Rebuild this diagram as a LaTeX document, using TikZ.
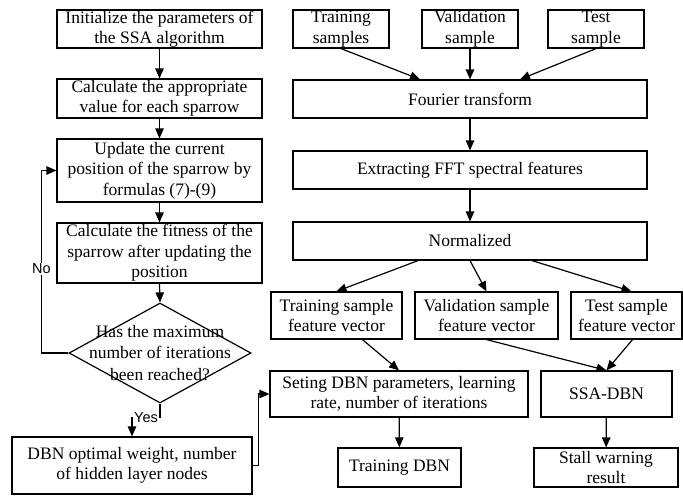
\documentclass[tikz,border=0pt]{standalone}
\usepackage{fontspec}
\setmainfont{Liberation Serif}
\newfontfamily\answerfont{Liberation Sans}
\usetikzlibrary{arrows.meta, positioning, calc, shapes.geometric}
\tikzset{
    block/.style 2 args={
           rectangle,
           draw=black, line width=1.2pt,
           minimum width=#1pt,
           minimum height=#2pt,
           inner sep=0pt,
           align=center,
           font=\fontsize{17.5}{20.5}\selectfont,
           },
    decision/.style={diamond, draw=black, line width=1.2pt, inner sep=0pt,
           minimum width=182pt, minimum height=100pt},
    flow/.style={-{Triangle[length=10pt,width=8.5pt]}, line width=1.2pt},
    answer/.style={font=\answerfont\fontsize{14.5}{16}\selectfont, fill=white, inner sep=1pt},
}
\begin{document}
\begin{tikzpicture}[x=1pt, y=-1pt]
  \useasboundingbox (0,0) rectangle (683,496);
  % SSA part
  \node[block={205}{38}] (init) at (159.5, 29)  {Initialize the parameters of\\the SSA algorithm};
  \node[block={205}{39}] (calc) at (159.5, 98.5) {Calculate the appropriate\\value for each sparrow};
  \node[block={205}{63}] (upd)  at (159.5,170.5) {Update the current\\position of the sparrow by\\formulas (7)-(9)};
  \node[block={205}{60}] (fit)  at (159.5,253)  {Calculate the fitness of the\\sparrow after updating the\\position};
  \node[decision]        (dia)  at (160,353) {};
  \node[align=center, inner sep=0pt, font=\fontsize{17.5}{21.5}\selectfont] (diatext) at (dia) {Has the maximum\\number of iterations\\been reached?};
  \node[block={240}{57}] (opt)  at (132,465.5) {DBN optimal weight, number\\of hidden layer nodes};
  % DBN part
  \node[block={96}{38}]  (tr)   at (341, 29) {Training\\samples};
  \node[block={96}{38}]  (va)   at (470, 29) {Validation\\sample};
  \node[block={96}{38}]  (te)   at (596, 29) {Test\\sample};
  \node[block={354}{38}] (four) at (470, 99) {Fourier transform};
  \node[block={354}{38}] (ext)  at (470,170) {Extracting FFT spectral features};
  \node[block={354}{38}] (norm) at (470,241) {Normalized};
  \node[block={131}{47}] (trf)  at (336.5,315.5) {Training sample\\feature vector};
  \node[block={143}{47}] (vaf)  at (486.5,315.5) {Validation sample\\feature vector};
  \node[block={111}{47}] (tef)  at (626.5,315.5) {Test sample\\feature vector};
  \node[block={258}{46}] (set)  at (399,394) {Seting DBN parameters, learning\\rate, number of iterations};
  \node[block={131}{46}] (ssa)  at (606.5,394) {SSA-DBN};
  \node[block={123}{39}] (trdbn) at (399.5,467.5) {Training DBN};
  \node[block={144}{39}] (stall) at (606,467.5) {Stall warning\\result};

  \draw[flow] (init) edge (calc) (calc) edge (upd) (upd) edge (fit);
  \draw[flow] (fit.south) -- (dia.north);
  \draw[flow] (dia.west) -- ++(-27,0) |- node[answer, pos=0.23]{No} (upd.west);
  \draw[flow] (dia.south) -- ++(0,14) -| node[answer, pos=0.25]{Yes} (opt.north);
  \draw[flow] (opt.east) -- ++(6,0) |- (set.west);

  \draw[flow] (tr.south) -- ($(four.north)+(-50,0)$);
  \draw[flow] (va.south) -- (four.north);
  \draw[flow] (te.south) -- ($(four.north)+(50,0)$);
  \draw[flow] (four) edge (ext) (ext) edge (norm);
  \draw[flow] ($(norm.south)+(-52,0)$) -- (trf.north);
  \draw[flow] (norm.south) -- (vaf.north);
  \draw[flow] ($(norm.south)+(62,0)$) -- ($(tef.north)+(5,0)$);
  \draw[flow] ($(trf.south)+(26,0)$) -- (set.north);
  \draw[flow] (vaf.south) -- (ssa.north);
  \draw[flow] ($(tef.south)+(6,0)$) -- (ssa.north);
  \draw[flow] (set) edge (trdbn) (ssa) edge (stall);
\end{tikzpicture}
\end{document}
